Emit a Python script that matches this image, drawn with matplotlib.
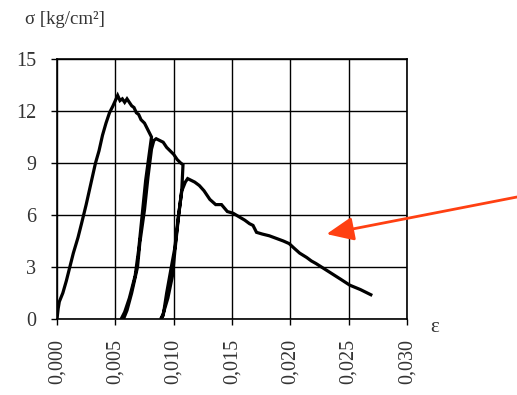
import matplotlib
matplotlib.use("Agg")
import matplotlib.pyplot as plt

plt.rcParams['font.family'] = ['Liberation Serif', 'DejaVu Serif']

# strain (continuous test path with two unload/reload loops)
strain = [0.0000, 0.0001, 0.0002, 0.0005, 0.0008, 0.0011, 0.0014, 0.0018, 0.0021, 0.0025,
          0.0029, 0.0033, 0.0036, 0.0039, 0.0042, 0.0045, 0.0048, 0.0050, 0.0052, 0.0054,
          0.0056, 0.0058, 0.0060, 0.0062, 0.0064, 0.0066, 0.0068, 0.0070, 0.0072, 0.0075,
          0.0078, 0.0081,
          0.0079, 0.0076, 0.0073, 0.0070, 0.0067, 0.0062, 0.0058, 0.0055,
          0.0057, 0.0060, 0.0064, 0.0069, 0.0071, 0.0075, 0.0078, 0.0081, 0.0083, 0.0085,
          0.0088, 0.0091, 0.0094, 0.0097, 0.0100, 0.0103, 0.0106, 0.0108,
          0.0107, 0.0104, 0.0101, 0.0099, 0.0095, 0.0091, 0.0089,
          0.0091, 0.0094, 0.0098, 0.0101, 0.0104, 0.0107, 0.0110, 0.0112, 0.0115, 0.0118,
          0.0122, 0.0126, 0.0131, 0.0136, 0.0141, 0.0146, 0.0151, 0.0156, 0.0161, 0.0165,
          0.0168, 0.0171, 0.0176, 0.0182, 0.0188, 0.0194, 0.0199, 0.0203, 0.0208, 0.0214,
          0.0218, 0.0222, 0.0229, 0.0236, 0.0243, 0.0251, 0.0260, 0.0269]
stress = [0.0, 0.6, 1.0, 1.5, 2.2, 3.0, 3.8, 4.7, 5.5, 6.6,
          7.8, 9.0, 9.7, 10.6, 11.3, 11.9, 12.3, 12.6, 12.9, 12.6,
          12.7, 12.5, 12.7, 12.5, 12.3, 12.2, 11.9, 11.8, 11.5, 11.3,
          10.9, 10.5,
          9.5, 8.0, 6.0, 4.0, 2.5, 1.2, 0.4, 0.0,
          0.0, 0.5, 1.5, 3.0, 4.4, 6.3, 8.2, 9.8, 10.3, 10.4,
          10.3, 10.2, 9.9, 9.7, 9.5, 9.2, 9.0, 8.9,
          7.5, 5.8, 3.9, 2.5, 1.2, 0.3, 0.0,
          0.2, 1.5, 3.0, 4.1, 5.9, 7.4, 7.9, 8.1, 8.0, 7.9,
          7.7, 7.4, 6.9, 6.6, 6.6, 6.2, 6.1, 5.9, 5.7, 5.5,
          5.4, 5.0, 4.9, 4.8, 4.65, 4.5, 4.35, 4.1, 3.8, 3.55,
          3.35, 3.2, 2.9, 2.6, 2.3, 1.95, 1.7, 1.4]

x_ticks = [0.000, 0.005, 0.010, 0.015, 0.020, 0.025, 0.030]
x_tick_labels = ['0,000', '0,005', '0,010', '0,015', '0,020', '0,025', '0,030']
y_ticks = [0, 3, 6, 9, 12, 15]
arrow_tip = (0.0231, 4.9)

fig = plt.figure(figsize=(5.17, 3.95), dpi=100)
ax = fig.add_axes([57/517, 76/395, 350/517, 260/395])

ax.plot(strain, stress, color='black', lw=2.3, solid_joinstyle='miter')

ax.set_xlim(0, 0.030)
ax.set_ylim(0, 15)
ax.set_xticks(x_ticks)
ax.set_xticklabels(x_tick_labels, rotation=90)
ax.set_yticks(y_ticks)
ax.grid(True, color='black', lw=1.0)
ax.set_axisbelow(True)
for s in ax.spines.values():
    s.set_color('black')
    s.set_linewidth(1.2)
ax.tick_params(direction='out', length=4.5, width=1.0, color='black',
               labelsize=14.5, labelcolor='#333333')
ax.tick_params(axis='y', pad=10.5)
ax.tick_params(axis='x', pad=10)

fig.text(25/517, 1 - 20/395, 'σ [kg/cm²]', ha='left', va='center', fontsize=13.5, color='#333333')
fig.text(435/517, 1 - 328/395, 'ε', ha='center', va='center', fontsize=15, color='#333333')

ax.annotate('', xy=arrow_tip, xycoords='data',
            xytext=(1.0, 198/395), textcoords='figure fraction',
            arrowprops=dict(arrowstyle='-|>,head_length=1.65,head_width=0.72',
                            color='#FF4012', lw=2.0, shrinkA=0, shrinkB=0),
            annotation_clip=False)

fig.savefig('out.png', dpi=100)
